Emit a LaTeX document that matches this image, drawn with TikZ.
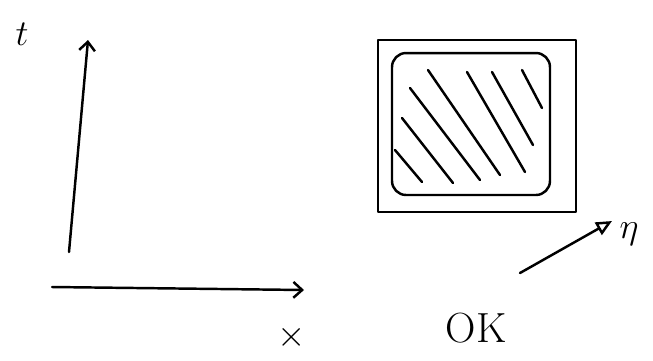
\documentclass[tikz,border=0pt]{standalone}
\usepackage{amsmath}
\usepackage{tikz}
\usetikzlibrary{positioning,arrows.meta}
\tikzset{
  pen/.style={line width=1.4pt,line cap=round,line join=round},
  axis/.style={pen,-{Straight Barb[length=5pt,width=9pt]}},
  dirarrow/.style={pen,-{Triangle[open,length=9pt,width=8pt,line width=1.4pt]}},
  lbl/.style={font=\fontsize{22}{26}\selectfont,inner sep=0pt},
  outerbox/.style={pen,draw,minimum width=3.96cm,minimum height=3.44cm,inner sep=0pt},
  innerbox/.style={pen,draw,rounded corners=8pt,minimum width=3.16cm,minimum height=2.84cm,inner sep=0pt},
  hatch/.style={pen},
}

\begin{document}
\begin{tikzpicture}[x=0.02cm,y=-0.02cm]
  \useasboundingbox (0,0) rectangle (653,360);
  % axes
  \coordinate (torig) at (69,252);
  \coordinate (ttip) at (88,40);
  \coordinate (xorig) at (52,287);
  \coordinate (xtip) at (304,290);
  \draw[axis] (torig) -- (ttip);
  \draw[axis] (xorig) -- (xtip);
  \node[lbl] (tlab) at (22,34) {$t$};
  \node[lbl] (xlab) at (292,337) {$\times$};
  % square
  \node[outerbox] (outer) at (477,126) {};
  \node[innerbox] (inner) at (471,124) {};
  \draw[hatch] (395,150) -- (422,182);
  \draw[hatch] (402,118) -- (453,183);
  \draw[hatch] (410,88) -- (480,180);
  \draw[hatch] (428,70) -- (500,175);
  \draw[hatch] (467,72) -- (525,172);
  \draw[hatch] (492,72) -- (533,145);
  \draw[hatch] (522,70) -- (542,108);
  % eta direction
  \coordinate (eorig) at (520,273);
  \coordinate (etip) at (612,221);
  \draw[dirarrow] (eorig) -- (etip);
  \node[lbl] (elab) at (629,234) {$\eta$};
  \node[lbl,font=\fontsize{24}{28}\selectfont] (ok) at (476,328) {OK};
\end{tikzpicture}
\end{document}
